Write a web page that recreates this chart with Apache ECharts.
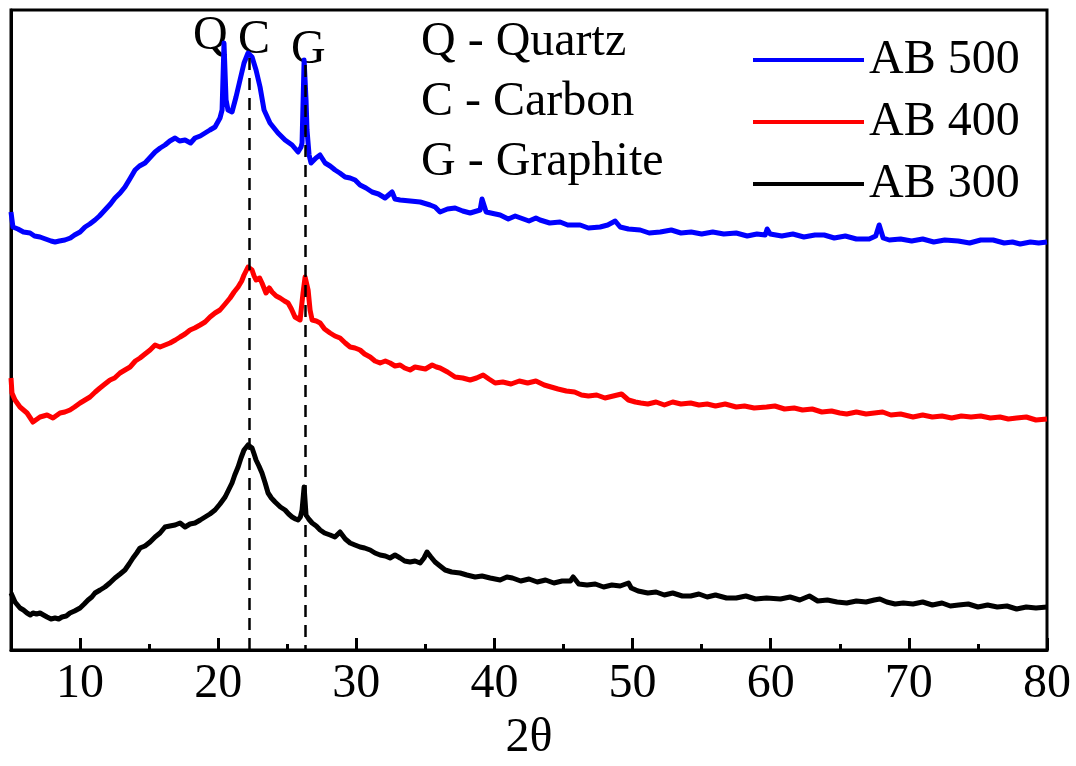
<!DOCTYPE html>
<html>
<head>
<meta charset="utf-8">
<title>XRD AB 300 / 400 / 500</title>
<script src="https://cdn.jsdelivr.net/npm/echarts@6/dist/echarts.min.js"></script>
<style>
  html, body { margin: 0; padding: 0; background: #fff; }
  #chart { width: 1076px; height: 766px; }
</style>
</head>
<body>
<div id="chart"></div>
<script>
// 2θ ticks
const majorTicks = [10, 20, 30, 40, 50, 60, 70, 80];
const minorTicks = [15, 25, 35, 45, 55, 65, 75];

// peak reference lines (2θ) and where the dashes start (intensity, a.u.)
const peakLines = [[22.25, 592], [26.3, 585]];

// [2θ, intensity a.u.] (curves are offset in the original)
const ab500 = [
  [5.0,438],[5.14,423],[5.5,421],[5.9,418],[6.38,417],[6.7,414],[7.1,413],[7.5,411],[7.9,409],[8.19,408],
  [8.5,409],[8.9,410],[9.3,412],[9.6,415],[10.0,418],[10.36,423],[10.7,426],[11.08,430],[11.4,434],[11.8,440],
  [12.2,446],[12.53,452],[12.9,457],[13.25,463],[13.6,471],[13.98,480],[14.3,484],[14.7,487],[15.1,493],[15.43,498],
  [15.8,502],[16.15,505],[16.5,509],[16.88,512],[17.2,509],[17.6,510],[18.0,507],[18.32,512],[18.7,514],[19.05,517],
  [19.4,520],[19.77,523],[20.13,532],[20.28,540],[20.42,607],[20.57,550],[20.71,540],[21.0,538],[21.29,553],[21.58,570],
  [21.87,587],[22.16,597],[22.45,593],[22.74,580],[23.03,563],[23.17,565],[23.32,540],[23.75,527],[24.33,517],[24.84,510],
  [25.35,505],[25.78,498],[26.0,503],[26.07,507],[26.22,590],[26.36,550],[26.43,520],[26.58,495],[26.72,487],[27.08,492],
  [27.37,495],[27.74,487],[28.1,484],[28.46,480],[28.8,477],[29.19,473],[29.55,472],[29.91,470],[30.27,465],[30.7,462],
  [31.14,458],[31.6,456],[32.08,452],[32.59,458],[32.8,451],[33.17,450],[33.9,449],[34.62,448],[35.34,445],[35.7,443],
  [36.06,438],[36.6,441],[37.15,442],[37.7,439],[38.24,437],[38.96,440],[39.1,451],[39.4,438],[40.41,435],[41.0,431],
  [41.5,434],[41.9,432],[42.5,429],[43.0,432],[43.3,430],[44.0,427],[44.75,428],[45.3,425],[46.2,425],[46.8,422],
  [47.65,423],[48.2,425],[48.74,429],[49.1,423],[49.7,421],[50.55,420],[51.2,417],[52.0,418],[52.8,420],[53.5,417],
  [54.24,418],[55.0,416],[55.8,418],[56.6,416],[57.5,417],[58.3,414],[59.0,416],[59.6,415],[59.74,421],[59.96,416],
  [60.8,414],[61.6,416],[62.4,413],[63.2,415],[63.87,415],[64.6,412],[65.4,414],[66.2,411],[67.13,411],[67.6,414],
  [67.85,425],[68.14,412],[68.58,410],[69.4,411],[70.2,409],[71.0,411],[71.8,408],[72.6,410],[73.57,409],[74.4,407],
  [75.2,410],[76.1,410],[76.9,407],[77.5,408],[78.06,406],[78.8,408],[79.4,407],[80.0,408]
];

const ab400 = [
  [5.0,272],[5.07,257],[5.29,250],[5.65,243],[6.16,237],[6.59,228],[7.1,233],[7.61,235],[8.04,232],[8.55,237],
  [8.9,238],[9.27,240],[9.6,243],[10.0,247],[10.36,250],[10.72,253],[11.1,258],[11.44,262],[11.8,266],[12.17,270],
  [12.5,272],[12.89,277],[13.25,280],[13.62,283],[14.0,289],[14.34,292],[14.7,296],[15.07,300],[15.43,305],[15.79,303],
  [16.15,305],[16.51,307],[16.9,310],[17.24,313],[17.6,316],[17.96,320],[18.3,322],[18.69,325],[19.05,328],[19.41,333],
  [19.77,337],[20.13,340],[20.5,346],[20.86,352],[21.15,358],[21.44,363],[21.7,369],[21.87,375],[22.16,383],[22.45,380],
  [22.6,374],[22.74,370],[23.0,372],[23.17,367],[23.46,357],[23.7,362],[23.9,358],[24.2,354],[24.48,352],[24.8,349],
  [25.06,347],[25.3,341],[25.56,333],[25.93,330],[26.14,357],[26.29,373],[26.51,360],[26.65,340],[26.8,330],[27.1,329],
  [27.38,327],[27.7,321],[28.1,317],[28.45,314],[28.82,312],[29.2,307],[29.55,303],[29.9,302],[30.27,300],[30.6,296],
  [31.0,293],[31.35,289],[31.72,287],[32.1,289],[32.44,287],[32.8,284],[33.17,285],[33.5,282],[33.89,280],[34.25,283],
  [34.62,282],[35.0,281],[35.49,285],[35.8,283],[36.06,282],[36.6,278],[37.15,273],[37.7,272],[38.24,270],[38.7,272],
  [39.18,275],[39.6,271],[40.05,267],[40.6,268],[41.2,266],[41.8,269],[42.4,267],[43.0,269],[43.6,265],[44.1,263],
  [44.6,261],[45.2,259],[45.8,258],[46.3,255],[46.8,254],[47.4,255],[48.0,252],[48.6,254],[49.2,256],[49.7,250],
  [50.2,248],[50.6,247],[51.1,246],[51.7,248],[52.3,245],[52.9,248],[53.5,246],[54.2,247],[54.8,245],[55.4,246],
  [56.0,244],[56.7,246],[57.5,243],[58.1,244],[58.8,242],[59.7,243],[60.3,244],[61.0,241],[61.7,242],[62.3,240],
  [63.0,241],[63.7,238],[64.4,239],[65.0,237],[65.5,236],[66.2,238],[66.9,236],[67.5,237],[68.1,238],[68.7,235],
  [69.4,236],[70.3,233],[71.0,235],[71.7,233],[72.4,234],[73.1,232],[73.8,234],[74.5,233],[75.2,234],[75.9,232],
  [76.6,233],[77.2,231],[77.8,232],[78.5,233],[79.2,230],[80.0,231]
];

const ab300 = [
  [5.0,57],[5.07,57],[5.29,48],[5.65,42],[5.9,40],[6.16,37],[6.4,35],[6.59,37],[6.85,36],[7.1,37],
  [7.35,35],[7.61,33],[7.9,31],[8.19,32],[8.45,31],[8.69,33],[9.0,34],[9.27,37],[9.6,39],[10.0,42],
  [10.3,46],[10.58,50],[10.85,53],[11.08,57],[11.45,60],[11.8,63],[12.15,67],[12.53,72],[12.9,76],[13.25,80],
  [13.55,86],[13.83,92],[14.1,97],[14.34,102],[14.7,104],[15.07,108],[15.43,113],[15.79,117],[16.15,123],[16.5,124],
  [16.88,125],[17.24,127],[17.6,123],[17.96,126],[18.32,127],[18.7,130],[19.05,133],[19.4,136],[19.77,140],[20.13,146],
  [20.5,153],[20.75,160],[21.0,167],[21.2,175],[21.44,183],[21.65,192],[21.87,200],[22.16,205],[22.45,202],[22.6,196],
  [22.74,190],[22.95,184],[23.17,177],[23.4,167],[23.61,157],[23.85,152],[24.12,148],[24.5,143],[24.84,140],[25.1,136],
  [25.35,133],[25.6,131],[25.78,130],[25.95,133],[26.07,140],[26.22,163],[26.36,135],[26.55,131],[26.8,127],[27.1,124],
  [27.38,120],[27.7,117],[28.1,115],[28.45,113],[28.82,118],[29.2,111],[29.55,107],[29.9,105],[30.27,103],[30.6,102],
  [31.0,100],[31.35,97],[31.72,95],[32.1,94],[32.44,92],[32.8,95],[33.17,92],[33.5,89],[33.89,88],[34.25,89],
  [34.62,87],[34.9,92],[35.12,98],[35.4,93],[35.7,88],[36.06,84],[36.43,80],[36.9,78],[37.51,77],[38.0,75],
  [38.6,73],[39.1,74],[39.69,72],[40.41,70],[40.9,73],[41.3,72],[41.9,69],[42.5,71],[43.1,68],[43.7,70],
  [44.3,67],[44.9,69],[45.5,69],[45.7,73],[46.1,66],[46.7,65],[47.3,66],[47.9,63],[48.5,65],[49.1,64],
  [49.7,67],[49.9,62],[50.4,59],[51.1,57],[51.7,58],[52.3,55],[52.9,57],[53.6,54],[54.2,54],[54.8,56],
  [55.4,53],[56.0,55],[56.8,52],[57.5,52],[58.2,54],[58.9,51],[59.7,52],[60.7,51],[61.4,53],[62.1,50],
  [62.8,54],[63.4,49],[64.1,50],[64.8,48],[65.5,47],[66.2,49],[66.9,48],[67.5,50],[67.9,51],[68.4,48],
  [69.0,46],[69.6,47],[70.3,46],[71.0,48],[71.7,45],[72.4,47],[73.0,44],[73.6,45],[74.3,46],[75.0,43],
  [75.7,45],[76.4,43],[77.1,44],[77.8,41],[78.5,43],[79.2,42],[80.0,43]
];

const phaseKey = ['Q - Quartz', 'C - Carbon', 'G - Graphite'];

const FONT = 'Liberation Serif';
const chart = echarts.init(document.getElementById('chart'));

const lineSeries = (name, data, color) => ({
  name: name,
  type: 'line',
  data: data,
  showSymbol: false,
  symbol: 'none',
  lineStyle: { color: color, width: 5, join: 'round' },
  itemStyle: { color: color },
  z: 3
});

const option = {
  animation: false,
  textStyle: { fontFamily: FONT },
  grid: {
    left: 11, right: 29, top: 10, bottom: 116,
    outerBoundsMode: 'none',
    show: true, borderColor: '#000', borderWidth: 3, backgroundColor: 'transparent'
  },
  legend: {
    data: ['AB 500', 'AB 400', 'AB 300'],
    orient: 'vertical',
    left: 748,
    top: 30,
    itemWidth: 111,
    itemHeight: 4,
    itemGap: 12,
    icon: 'rect',
    textStyle: { fontFamily: FONT, fontSize: 48, color: '#000', lineHeight: 50 }
  },
  xAxis: [
    {
      type: 'value', min: 5, max: 80,
      name: '2θ', nameLocation: 'middle', nameGap: 64,
      nameTextStyle: { fontFamily: FONT, fontSize: 48, color: '#000' },
      axisLine: { show: true, lineStyle: { color: '#000', width: 3 } },
      axisTick: { show: true, inside: true, length: 12, customValues: majorTicks, lineStyle: { color: '#000', width: 3 } },
      axisLabel: { show: true, customValues: majorTicks, margin: 10, fontFamily: FONT, fontSize: 48, color: '#000' },
      splitLine: { show: false }
    },
    {
      type: 'value', min: 5, max: 80, position: 'bottom',
      axisLine: { show: false },
      axisTick: { show: true, inside: true, length: 6, customValues: minorTicks, lineStyle: { color: '#000', width: 3 } },
      axisLabel: { show: false },
      splitLine: { show: false }
    }
  ],
  yAxis: {
    type: 'value', min: 0, max: 640,
    axisLine: { show: true, lineStyle: { color: '#000', width: 3 } },
    axisTick: { show: false },
    axisLabel: { show: false },
    splitLine: { show: false }
  },
  graphic: [
    { type: 'text', left: 193, top: 12, style: { text: 'Q', font: '48px "Liberation Serif"', fill: '#000' } },
    { type: 'text', left: 238, top: 16, style: { text: 'C', font: '48px "Liberation Serif"', fill: '#000' } },
    { type: 'text', left: 291, top: 26, style: { text: 'G', font: '48px "Liberation Serif"', fill: '#000' } },
    { type: 'text', left: 421, top: 18, style: { text: phaseKey[0], font: '48px "Liberation Serif"', fill: '#000' } },
    { type: 'text', left: 421, top: 78, style: { text: phaseKey[1], font: '48px "Liberation Serif"', fill: '#000' } },
    { type: 'text', left: 421, top: 138, style: { text: phaseKey[2], font: '48px "Liberation Serif"', fill: '#000' } }
  ],
  series: [
    Object.assign(lineSeries('AB 300', ab300, '#000000'), {
      markLine: {
        silent: true,
        symbol: 'none',
        label: { show: false },
        lineStyle: { color: '#000', width: 2.5, type: [12, 8] },
        data: peakLines.map(p => [{ coord: [p[0], p[1]] }, { coord: [p[0], 0] }])
      }
    }),
    lineSeries('AB 400', ab400, '#ff0000'),
    lineSeries('AB 500', ab500, '#0000ff')
  ]
};

chart.setOption(option);
window.addEventListener('resize', () => chart.resize());
</script>
</body>
</html>
